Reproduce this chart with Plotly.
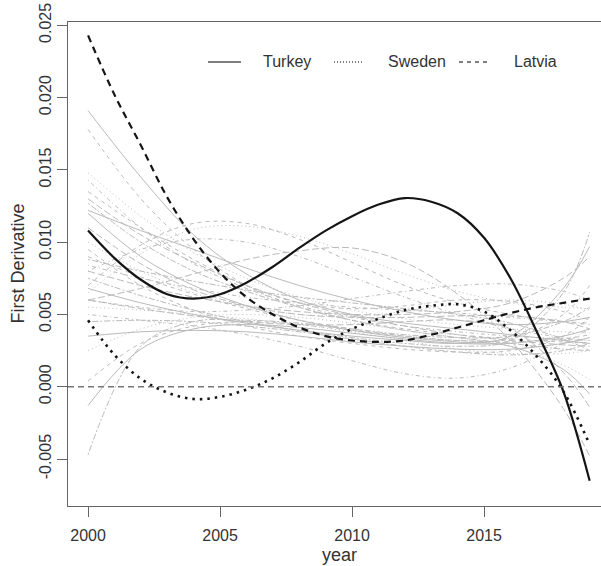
import plotly.graph_objects as go

# ---------------- data ----------------
years = [2000, 2001, 2002, 2003, 2004, 2005, 2006, 2007, 2008, 2009,
         2010, 2011, 2012, 2013, 2014, 2015, 2016, 2017, 2018, 2019]

turkey = [0.0108, 0.0089, 0.0074, 0.0064, 0.0061, 0.0064, 0.0072, 0.0083, 0.0096, 0.0108,
          0.0118, 0.0126, 0.01305, 0.0128, 0.0120, 0.0103, 0.0075, 0.0038, -0.0003, -0.0065]

sweden = [0.0046, 0.0022, 0.00055, -0.0004, -0.00085, -0.0007, -0.0002, 0.0006, 0.0017, 0.0030,
          0.0040, 0.0047, 0.0053, 0.0056, 0.0057, 0.0052, 0.0039, 0.0021, -0.0003, -0.0040]

latvia = [0.0243, 0.0202, 0.0167, 0.0131, 0.0102, 0.0079, 0.0062, 0.0050, 0.0041, 0.0035,
          0.0032, 0.0031, 0.0032, 0.0036, 0.0041, 0.0046, 0.0051, 0.0055, 0.0058, 0.0061]

# other countries (grey), read at these years
gray_years = [2000, 2002, 2004, 2006, 2008, 2010, 2012, 2014, 2016, 2018, 2019]
gray_values = [
    [0.0191, 0.0145, 0.0105, 0.0078, 0.0060, 0.0050, 0.0044, 0.0040, 0.0036, 0.0032, 0.0030],
    [0.0178, 0.0130, 0.0095, 0.0070, 0.0055, 0.0046, 0.0040, 0.0036, 0.0033, 0.0031, 0.0030],
    [0.0148, 0.0118, 0.0093, 0.0075, 0.0062, 0.0053, 0.0047, 0.0043, 0.0040, 0.0038, 0.0037],
    [0.0143, 0.0110, 0.0085, 0.0068, 0.0056, 0.0048, 0.0042, 0.0038, 0.0035, 0.0033, 0.0032],
    [0.0130, 0.0105, 0.0086, 0.0070, 0.0058, 0.0049, 0.0042, 0.0036, 0.0032, 0.0029, 0.0028],
    [0.0127, 0.0100, 0.0080, 0.0066, 0.0055, 0.0046, 0.0039, 0.0034, 0.0030, 0.0026, 0.0025],
    [0.0122, 0.0108, 0.0095, 0.0082, 0.0070, 0.0060, 0.0052, 0.0046, 0.0043, 0.0045, 0.0048],
    [0.0070, 0.0098, 0.0113, 0.0113, 0.0102, 0.0086, 0.0070, 0.0058, 0.0050, 0.0045, 0.0043],
    [0.0065, 0.0092, 0.0109, 0.0111, 0.0104, 0.0092, 0.0078, 0.0066, 0.0058, 0.0055, 0.0054],
    [0.0080, 0.0095, 0.0102, 0.0100, 0.0090, 0.0076, 0.0062, 0.0050, 0.0040, 0.0034, 0.0032],
    [0.0060, 0.0068, 0.0078, 0.0088, 0.0094, 0.0096, 0.0086, 0.0064, 0.0032, -0.0015, -0.0048],
    [-0.0047, 0.0028, 0.0045, 0.0046, 0.0044, 0.0040, 0.0036, 0.0034, 0.0035, 0.0045, 0.0055],
    [-0.0013, 0.0026, 0.0040, 0.0043, 0.0041, 0.0037, 0.0033, 0.0030, 0.0030, 0.0035, 0.0040],
    [0.0004, 0.0030, 0.0042, 0.0045, 0.0043, 0.0039, 0.0035, 0.0032, 0.0031, 0.0033, 0.0036],
    [0.0025, 0.0040, 0.0048, 0.0050, 0.0048, 0.0044, 0.0039, 0.0034, 0.0028, 0.0015, 0.0005],
    [0.0084, 0.0075, 0.0068, 0.0062, 0.0058, 0.0055, 0.0053, 0.0051, 0.0048, 0.0045, 0.0044],
    [0.0080, 0.0070, 0.0062, 0.0056, 0.0052, 0.0050, 0.0050, 0.0052, 0.0058, 0.0075, 0.0090],
    [0.0075, 0.0063, 0.0053, 0.0045, 0.0039, 0.0034, 0.0030, 0.0028, 0.0032, 0.0065, 0.0107],
    [0.0068, 0.0058, 0.0050, 0.0044, 0.0039, 0.0035, 0.0032, 0.0030, 0.0035, 0.0068, 0.0097],
    [0.0090, 0.0076, 0.0064, 0.0054, 0.0046, 0.0040, 0.0035, 0.0032, 0.0033, 0.0050, 0.0070],
    [0.0055, 0.0053, 0.0050, 0.0047, 0.0043, 0.0038, 0.0032, 0.0026, 0.0023, 0.0023, 0.0025],
    [0.0050, 0.0046, 0.0042, 0.0036, 0.0028, 0.0018, 0.0009, 0.0006, 0.0013, 0.0030, 0.0040],
    [0.0060, 0.0054, 0.0049, 0.0045, 0.0043, 0.0043, 0.0045, 0.0046, 0.0040, 0.0010, -0.0014],
    [0.0045, 0.0046, 0.0045, 0.0042, 0.0038, 0.0033, 0.0028, 0.0024, 0.0022, 0.0025, 0.0030],
    [0.0035, 0.0038, 0.0039, 0.0038, 0.0035, 0.0031, 0.0028, 0.0026, 0.0026, 0.0030, 0.0034],
    [0.0135, 0.0110, 0.0088, 0.0070, 0.0058, 0.0054, 0.0056, 0.0060, 0.0059, 0.0052, 0.0046],
    [0.0100, 0.0080, 0.0065, 0.0055, 0.0050, 0.0049, 0.0052, 0.0057, 0.0060, 0.0057, 0.0053],
    [0.0060, 0.0055, 0.0052, 0.0053, 0.0056, 0.0061, 0.0066, 0.0070, 0.0071, 0.0066, 0.0060],
    [0.0110, 0.0085, 0.0067, 0.0056, 0.0050, 0.0048, 0.0048, 0.0049, 0.0049, 0.0045, 0.0040],
    [0.0088, 0.0080, 0.0073, 0.0067, 0.0062, 0.0058, 0.0054, 0.0050, 0.0044, 0.0033, 0.0025],
    [0.0120, 0.0090, 0.0070, 0.0056, 0.0046, 0.0039, 0.0034, 0.0031, 0.0028, 0.0012, -0.0005],
    [0.0095, 0.0070, 0.0053, 0.0042, 0.0035, 0.0030, 0.0026, 0.0024, 0.0025, 0.0035, 0.0048],
]

x_tick_vals = [2000, 2005, 2010, 2015]
y_tick_vals = [-0.005, 0.0, 0.005, 0.010, 0.015, 0.020, 0.025]
y_tick_text = ["-0.005", "0.000", "0.005", "0.010", "0.015", "0.020", "0.025"]

legend_names = ["Turkey", "Sweden", "Latvia"]

# ---------------- styles ----------------
gray_dashes = ["solid", "4px,4px", "1px,3px", "1px,3px,4px,3px", "7px,3px", "2px,2px,6px,2px"]
GRAY = "#bababa"
FONT = "Liberation Sans, Arial, Helvetica, sans-serif"

fig = go.Figure()

for i, vals in enumerate(gray_values):
    fig.add_trace(go.Scatter(
        x=gray_years, y=vals, mode="lines",
        line=dict(color=GRAY, width=1, dash=gray_dashes[i % len(gray_dashes)],
                  shape="spline", smoothing=1.0),
        hoverinfo="skip", showlegend=False))

# zero reference line
fig.add_shape(type="line", xref="paper", x0=0, x1=1, yref="y", y0=0, y1=0,
              line=dict(color="#777777", width=1.5, dash="6px,4px"), layer="above")

main_series = [(turkey, "solid", 2.2), (sweden, "2.5px,5px", 2.6), (latvia, "7px,5px", 2.2)]
for name, (vals, dash, w) in zip(legend_names, main_series):
    fig.add_trace(go.Scatter(
        x=years, y=vals, mode="lines", name=name,
        line=dict(color="#151515", width=w, dash=dash, shape="spline", smoothing=1.0),
        showlegend=False))

# ---------------- layout ----------------
L, R_, T, B = 68, 0, 22, 60
W, H = 601, 566
pw, ph = W - L - R_, H - T - B

def px_x(px):
    return (px - L) / pw

def px_y(py):
    return (H - B - py) / ph

fig.update_layout(
    width=W, height=H,
    margin=dict(l=L, r=R_, t=T, b=B),
    plot_bgcolor="white", paper_bgcolor="white",
    showlegend=False,
    font=dict(family=FONT, size=16, color="#333333"),
)

fig.update_xaxes(
    range=[1999.24, 2019.43],
    tickvals=x_tick_vals,
    ticks="outside", ticklen=10, tickwidth=1, tickcolor="#666666",
    showline=True, linecolor="#666666", linewidth=1, mirror=True,
    showgrid=False, zeroline=False,
    tickfont=dict(family=FONT, size=16, color="#333333"),
    ticklabelstandoff=5,
)
fig.update_yaxes(
    range=[-0.00825, 0.02523],
    tickvals=y_tick_vals, ticktext=y_tick_text, tickangle=-90,
    ticks="outside", ticklen=10, tickwidth=1, tickcolor="#666666",
    showline=True, linecolor="#666666", linewidth=1, mirror=False,
    showgrid=False, zeroline=False,
    tickfont=dict(family=FONT, size=16, color="#333333"),
)

annotations = [
    dict(text="year", xref="paper", yref="paper", x=px_x(339), y=px_y(566),
         xanchor="center", yanchor="bottom", showarrow=False, borderpad=0,
         font=dict(family=FONT, size=18, color="#333333")),
    dict(text="First Derivative", xref="paper", yref="paper", x=px_x(17.5), y=0.5,
         xanchor="center", yanchor="middle", showarrow=False, textangle=-90,
         font=dict(family=FONT, size=18, color="#333333")),
]

# manual legend (line samples + labels)
legend_lines = [(208, 241, "solid"), (334, 364, "1px,2px"), (459, 489, "4px,4px")]
legend_text_x = [261, 386, 512]
ly = px_y(62)
for (x0, x1, dash), tx, name in zip(legend_lines, legend_text_x, legend_names):
    fig.add_shape(type="line", xref="paper", yref="paper", x0=px_x(x0), x1=px_x(x1),
                  y0=ly, y1=ly, line=dict(color="#555555", width=1.5, dash=dash))
    annotations.append(dict(text=name, xref="paper", yref="paper", x=px_x(tx), y=ly,
                            xanchor="left", yanchor="middle", showarrow=False,
                            font=dict(family=FONT, size=16, color="#333333")))

fig.update_layout(annotations=annotations)

fig.write_html("out.html")
